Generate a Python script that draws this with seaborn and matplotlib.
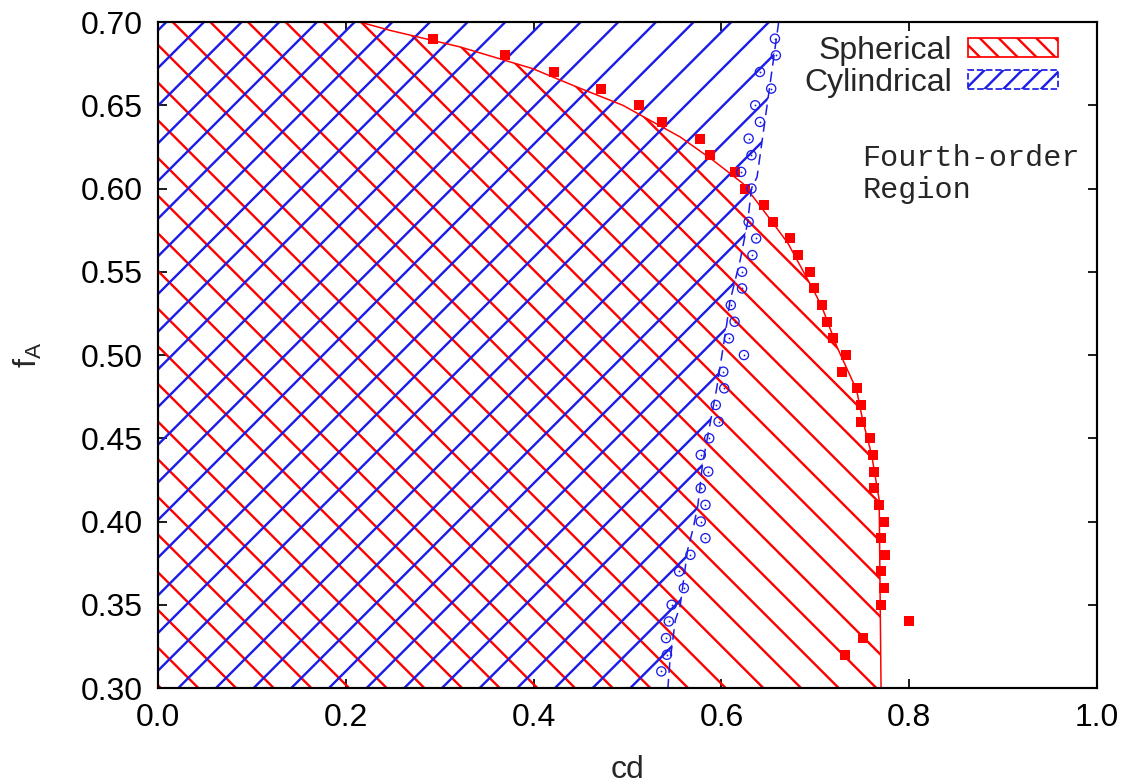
import matplotlib
matplotlib.use('Agg')
import matplotlib.pyplot as plt
import seaborn as sns
from matplotlib.patches import Patch

RED = "#ff0000"
BLUE = "#1c1ce8"

# boundary of the spherical (red) region, read top to bottom
sph_edge_fa = [0.70, 0.695, 0.685, 0.672, 0.661, 0.650, 0.631, 0.617, 0.603, 0.580,
               0.567, 0.539, 0.529, 0.505, 0.479, 0.462, 0.440, 0.413, 0.30]
sph_edge_cd = [0.215, 0.247, 0.322, 0.399, 0.446, 0.495, 0.556, 0.591, 0.623, 0.654,
               0.671, 0.698, 0.707, 0.723, 0.744, 0.750, 0.760, 0.768, 0.770]

# boundary of the cylindrical (blue) region
cyl_edge_fa = [0.70, 0.607, 0.600, 0.580, 0.557, 0.532, 0.516, 0.480, 0.459, 0.435,
               0.410, 0.396, 0.383, 0.349, 0.341, 0.315, 0.30]
cyl_edge_cd = [0.661, 0.638, 0.632, 0.628, 0.620, 0.609, 0.605, 0.595, 0.588, 0.580,
               0.575, 0.570, 0.564, 0.556, 0.551, 0.545, 0.543]

# computed points
sph_fa = [0.69, 0.68, 0.67, 0.66, 0.65, 0.64, 0.63, 0.62, 0.61, 0.60,
          0.59, 0.58, 0.57, 0.56, 0.55, 0.54, 0.53, 0.52, 0.51, 0.50,
          0.49, 0.48, 0.47, 0.46, 0.45, 0.44, 0.43, 0.42, 0.41, 0.40,
          0.39, 0.38, 0.37, 0.36, 0.35, 0.34, 0.33, 0.32]
sph_cd = [0.293, 0.370, 0.422, 0.472, 0.512, 0.537, 0.577, 0.588, 0.614, 0.625,
          0.645, 0.655, 0.673, 0.682, 0.694, 0.699, 0.707, 0.712, 0.719, 0.733,
          0.728, 0.744, 0.749, 0.749, 0.758, 0.761, 0.763, 0.763, 0.768, 0.773,
          0.770, 0.774, 0.770, 0.773, 0.770, 0.800, 0.751, 0.732]

cyl_fa = [0.69, 0.68, 0.67, 0.66, 0.65, 0.64, 0.63, 0.62, 0.61, 0.60,
          0.58, 0.57, 0.56, 0.55, 0.54, 0.53, 0.52, 0.51, 0.50,
          0.49, 0.48, 0.47, 0.46, 0.45, 0.44, 0.43, 0.42, 0.41, 0.40,
          0.39, 0.38, 0.37, 0.36, 0.35, 0.34, 0.33, 0.32, 0.31]
cyl_cd = [0.657, 0.658, 0.641, 0.653, 0.636, 0.641, 0.629, 0.632, 0.621, 0.632,
          0.629, 0.637, 0.633, 0.622, 0.622, 0.610, 0.614, 0.608, 0.624,
          0.602, 0.603, 0.594, 0.597, 0.587, 0.578, 0.586, 0.578, 0.583, 0.578,
          0.583, 0.567, 0.555, 0.560, 0.547, 0.544, 0.541, 0.542, 0.536]

x_ticks = [0.0, 0.2, 0.4, 0.6, 0.8, 1.0]
y_ticks = [0.30, 0.35, 0.40, 0.45, 0.50, 0.55, 0.60, 0.65, 0.70]

# the hatch spacing follows the dpi, so sizes below are scaled with it
DPI = 113
K = 156 / DPI

sns.set_theme(style="ticks")
plt.rcParams['font.family'] = ['Liberation Sans', 'DejaVu Sans']
plt.rcParams['hatch.linewidth'] = 1.1 * K
plt.rcParams['axes.linewidth'] = 1.0 * K

fig = plt.figure(figsize=(1127 / DPI, 784 / DPI), dpi=DPI)
ax = fig.add_axes([0.1402, 0.1224, 0.8332, 0.8495])

# hatched regions (closed against the left axis)
ax.fill([0.0] + sph_edge_cd + [0.0], [0.70] + sph_edge_fa + [0.30],
        facecolor='none', edgecolor=RED, hatch='\\', linewidth=0, zorder=1)
ax.fill([0.0] + cyl_edge_cd + [0.0], [0.70] + cyl_edge_fa + [0.30],
        facecolor='none', edgecolor=BLUE, hatch='/', linewidth=0, zorder=2)

# boundaries
sns.lineplot(x=sph_edge_cd, y=sph_edge_fa, sort=False, estimator=None,
             color=RED, lw=0.7 * K, ax=ax, zorder=3)
sns.lineplot(x=cyl_edge_cd + [0.0], y=cyl_edge_fa + [0.30], sort=False, estimator=None,
             color=BLUE, lw=0.7 * K, ax=ax, zorder=3, linestyle=(0, (7, 4)))

# data points
sns.scatterplot(x=sph_cd, y=sph_fa, marker='s', s=22 * K * K, color=RED, linewidth=0,
                ax=ax, zorder=4)
sns.scatterplot(x=cyl_cd, y=cyl_fa, marker='o', s=18 * K * K, facecolor='none',
                edgecolor=BLUE, linewidth=0.6 * K, ax=ax, zorder=4)
sns.scatterplot(x=cyl_cd, y=cyl_fa, marker='o', s=0.7 * K * K, color=BLUE, linewidth=0,
                ax=ax, zorder=4)

ax.set_xlim(0.0, 1.0)
ax.set_ylim(0.30, 0.70)
ax.set_xticks(x_ticks)
ax.set_xticklabels([f"{v:.1f}" for v in x_ticks])
ax.set_yticks(y_ticks)
ax.set_yticklabels([f"{v:.2f}" for v in y_ticks])
ax.tick_params(direction='in', length=4.3 * K, width=0.8 * K, top=True, right=True,
               labelsize=14.8 * K, pad=7 * K, colors='black')
for sp in ax.spines.values():
    sp.set_visible(True)
    sp.set_color('black')
    sp.set_zorder(5)

ax.set_xlabel('cd', fontsize=14.8 * K, labelpad=10 * K)
ax.set_ylabel(r'$\mathregular{f_A}$', fontsize=14.8 * K, labelpad=17 * K)

ax.text(0.75, 0.6087, 'Fourth-order\nRegion', family='Liberation Mono',
        fontsize=13.9 * K, va='center', ha='left', linespacing=1.2)

handles = [
    Patch(facecolor='white', edgecolor=RED, hatch='\\\\', linewidth=0.8 * K,
          label='Spherical'),
    Patch(facecolor='white', edgecolor=BLUE, hatch='//', linewidth=0.8 * K,
          linestyle='--', label='Cylindrical'),
]
ax.legend(handles=handles, loc='upper right', bbox_to_anchor=(0.975, 1.003),
          frameon=False, markerfirst=False, fontsize=14.8 * K, borderpad=0,
          labelspacing=0.05, handlelength=2.8, handleheight=0.55, handletextpad=0.5)

fig.savefig('out.png', dpi=DPI)
plt.close(fig)
